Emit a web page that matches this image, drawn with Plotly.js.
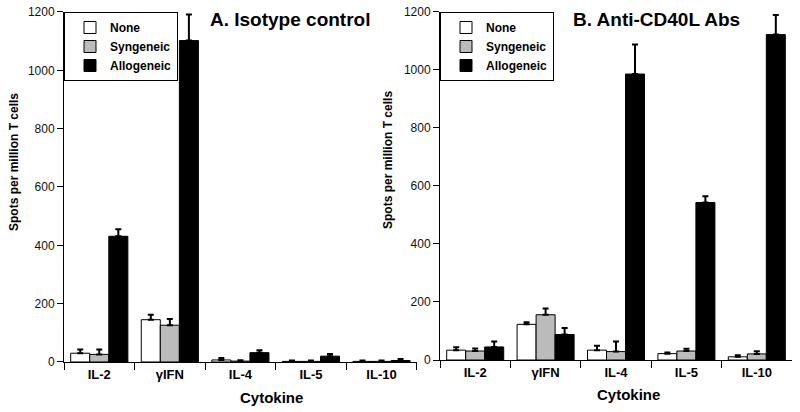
<!DOCTYPE html>
<html>
<head>
<meta charset="utf-8">
<script src="https://cdn.plot.ly/plotly-3.0.1.min.js"></script>
<style>html,body{margin:0;padding:0;background:#fff}#chart{width:800px;height:412px}</style>
</head>
<body>
<div id="chart"></div>
<script>
const categories = ["IL-2", "γIFN", "IL-4", "IL-5", "IL-10"];
const seriesNames = ["None", "Syngeneic", "Allogeneic"];

// Panel A: Isotype control
const isoNone = [30, 145, 7, 2, 2];
const isoNoneErr = [13, 17, 7, 3, 3];
const isoSyn = [26, 126, 3, 2, 2];
const isoSynErr = [17, 21, 3, 3, 3];
const isoAllo = [431, 1102, 32, 20, 5];
const isoAlloErr = [24, 89, 8, 7, 5];

// Panel B: Anti-CD40L Abs
const cdNone = [34, 123, 34, 22, 11];
const cdNoneErr = [10, 7, 15, 4, 5];
const cdSyn = [31, 156, 29, 31, 21];
const cdSynErr = [9, 22, 35, 8, 9];
const cdAllo = [45, 88, 986, 543, 1122];
const cdAlloErr = [19, 22, 102, 22, 68];

const yTicks = [0, 200, 400, 600, 800, 1000, 1200];

const colors = ["#ffffff", "#bbbbbb", "#000000"];
const FONT = "Liberation Sans, Arial, Helvetica, sans-serif";

function mk(name, vals, errs, idx, xa, ya, legend) {
  return {
    type: "bar", name: name, x: categories, y: vals,
    xaxis: xa, yaxis: ya, legend: legend,
    marker: {color: colors[idx], line: {color: "#000", width: 1}},
    error_y: {type: "data", symmetric: false, array: errs, arrayminus: errs.map(() => 0),
              color: "#000", thickness: 2, width: 3},
    hoverinfo: "x+y"
  };
}

const data = [
  mk(seriesNames[0], isoNone, isoNoneErr, 0, "x", "y", "legend"),
  mk(seriesNames[1], isoSyn, isoSynErr, 1, "x", "y", "legend"),
  mk(seriesNames[2], isoAllo, isoAlloErr, 2, "x", "y", "legend"),
  mk(seriesNames[0], cdNone, cdNoneErr, 0, "x2", "y2", "legend2"),
  mk(seriesNames[1], cdSyn, cdSynErr, 1, "x2", "y2", "legend2"),
  mk(seriesNames[2], cdAllo, cdAlloErr, 2, "x2", "y2", "legend2")
];

function xax(domain, anchor) {
  return {
    domain: domain, anchor: anchor, type: "category", range: [-0.5, 4.5],
    tickson: "boundaries", ticks: "outside", ticklen: 7, tickcolor: "#000", tickwidth: 1,
    showline: true, linecolor: "#000", linewidth: 1, showgrid: false, zeroline: false,
    tickfont: {family: FONT, size: 13, color: "#000", weight: "bold"}, fixedrange: true
  };
}
function yax(domain, anchor) {
  return {
    domain: domain, anchor: anchor, range: [0, 1200], tickvals: yTicks,
    ticks: "outside", ticklen: 6, tickcolor: "#000", tickwidth: 1,
    showline: true, linecolor: "#000", linewidth: 1, showgrid: false, zeroline: false,
    tickfont: {family: FONT, size: 12, color: "#111"}, fixedrange: true
  };
}

const legendBase = {
  font: {family: FONT, size: 12, color: "#000", weight: "bold"},
  bordercolor: "#000", borderwidth: 1, bgcolor: "#fff",
  xanchor: "left", yanchor: "top", traceorder: "normal", tracegroupgap: 0,
  indentation: 5
};

const ann = (text, x, y, size, angle) => ({
  text: text, x: x, y: y, xref: "paper", yref: "paper", showarrow: false,
  xanchor: "center", yanchor: "middle", textangle: angle || 0,
  font: {family: FONT, size: size, color: "#000", weight: "bold"}
});

const layout = {
  width: 800, height: 412,
  margin: {l: 0, r: 0, t: 0, b: 0},
  paper_bgcolor: "#fff", plot_bgcolor: "#fff",
  barmode: "group", bargap: 0.19, bargroupgap: 0,
  showlegend: true,
  xaxis: xax([0.08, 0.521], "y"),
  yaxis: yax([0.1214, 0.9709], "x"),
  xaxis2: xax([0.55, 0.99], "y2"),
  yaxis2: yax([0.1262, 0.9709], "x2"),
  legend: Object.assign({x: 0.08, y: 0.9709}, legendBase),
  legend2: Object.assign({x: 0.55, y: 0.9709}, legendBase),
  annotations: [
    ann("A. Isotype control", 0.3625, 0.9515, 19),
    ann("B. Anti-CD40L Abs", 0.821, 0.9515, 19),
    ann("Cytokine", 0.339, 0.0364, 15),
    ann("Cytokine", 0.786, 0.0413, 15),
    ann("Spots per million T cells", 0.0175, 0.6068, 12, -90),
    ann("Spots per million T cells", 0.485, 0.6117, 12, -90)
  ]
};

Plotly.newPlot("chart", data, layout, {displayModeBar: false, staticPlot: true});
</script>
</body>
</html>
